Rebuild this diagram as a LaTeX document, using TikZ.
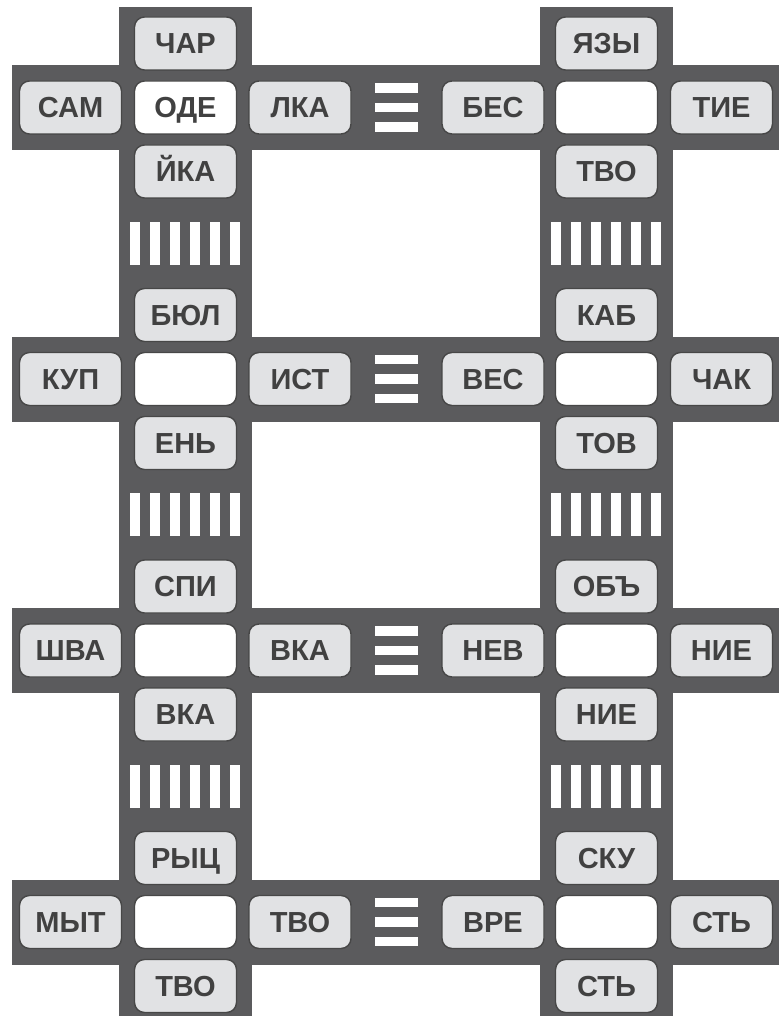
\documentclass[tikz,border=0pt]{standalone}
\usepackage{fontspec}
\setmainfont{Liberation Sans}
\definecolor{road}{HTML}{5B5B5D}
\definecolor{boxfill}{HTML}{E1E2E4}
\definecolor{boxline}{HTML}{474747}
\definecolor{txt}{HTML}{414141}
\tikzset{
  word/.style={draw=boxline, line width=1.4pt, fill=boxfill, rounded corners=10pt,
    minimum width=102pt, minimum height=53pt, inner sep=0pt,
    text height=20pt, text depth=0pt,
    text=txt, font=\fontsize{29}{29}\selectfont\bfseries},
  hub/.style={word, fill=white},
  roadpart/.style={fill=road, draw=none},
  stripe/.style={fill=white, draw=none}
}
\begin{document}
\begin{tikzpicture}[x=1pt,y=-1pt]
\useasboundingbox (0,0) rectangle (779,1016);
% roads
\foreach \r in {107.5,379,650.5,922}{
  \fill[roadpart] (12,\r-42.5) rectangle (779,\r+42.5);
}
\fill[roadpart] (119,7) rectangle (252,1016);
\fill[roadpart] (540,7) rectangle (673,1016);
% vertical crosswalks
\foreach \c in {185.5,606.5}{
  \foreach \m in {243.25,514.75,786.25}{
    \foreach \i in {0,...,5}{
      \fill[stripe] (\c-55.5+20*\i,\m-21.5) rectangle (\c-46+20*\i,\m+21.5);
    }
  }
}
% equals-type crosswalks
\foreach \r in {107.5,379,650.5,922}{
  \foreach \d in {-19.5,0,19.5}{
    \fill[stripe] (375,\r+\d-4.75) rectangle (418,\r+\d+4.75);
  }
}
% row 1
\node[word] (a1t) at (185.5,43.5) {ЧАР};
\node[word] (a1l) at (70.5,107.5) {САМ};
\node[hub]  (a1c) at (185.5,107.5) {ОДЕ};
\node[word] (a1r) at (300,107.5) {ЛКА};
\node[word] (a1b) at (185.5,171.5) {ЙКА};
\node[word] (b1t) at (606.5,43.5) {ЯЗЫ};
\node[word] (b1l) at (493,107.5) {БЕС};
\node[hub]  (b1c) at (606.5,107.5) {};
\node[word] (b1r) at (721.5,107.5) {ТИЕ};
\node[word] (b1b) at (606.5,171.5) {ТВО};
% row 2
\node[word] (a2t) at (185.5,315) {БЮЛ};
\node[word] (a2l) at (70.5,379) {КУП};
\node[hub]  (a2c) at (185.5,379) {};
\node[word] (a2r) at (300,379) {ИСТ};
\node[word] (a2b) at (185.5,443) {ЕНЬ};
\node[word] (b2t) at (606.5,315) {КАБ};
\node[word] (b2l) at (493,379) {ВЕС};
\node[hub]  (b2c) at (606.5,379) {};
\node[word] (b2r) at (721.5,379) {ЧАК};
\node[word] (b2b) at (606.5,443) {ТОВ};
% row 3
\node[word] (a3t) at (185.5,586.5) {СПИ};
\node[word] (a3l) at (70.5,650.5) {ШВА};
\node[hub]  (a3c) at (185.5,650.5) {};
\node[word] (a3r) at (300,650.5) {ВКА};
\node[word] (a3b) at (185.5,714.5) {ВКА};
\node[word] (b3t) at (606.5,586.5) {ОБЪ};
\node[word] (b3l) at (493,650.5) {НЕВ};
\node[hub]  (b3c) at (606.5,650.5) {};
\node[word] (b3r) at (721.5,650.5) {НИЕ};
\node[word] (b3b) at (606.5,714.5) {НИЕ};
% row 4
\node[word] (a4t) at (185.5,858) {РЫЦ};
\node[word] (a4l) at (70.5,922) {МЫТ};
\node[hub]  (a4c) at (185.5,922) {};
\node[word] (a4r) at (300,922) {ТВО};
\node[word] (a4b) at (185.5,986) {ТВО};
\node[word] (b4t) at (606.5,858) {СКУ};
\node[word] (b4l) at (493,922) {ВРЕ};
\node[hub]  (b4c) at (606.5,922) {};
\node[word] (b4r) at (721.5,922) {СТЬ};
\node[word] (b4b) at (606.5,986) {СТЬ};
\end{tikzpicture}
\end{document}
